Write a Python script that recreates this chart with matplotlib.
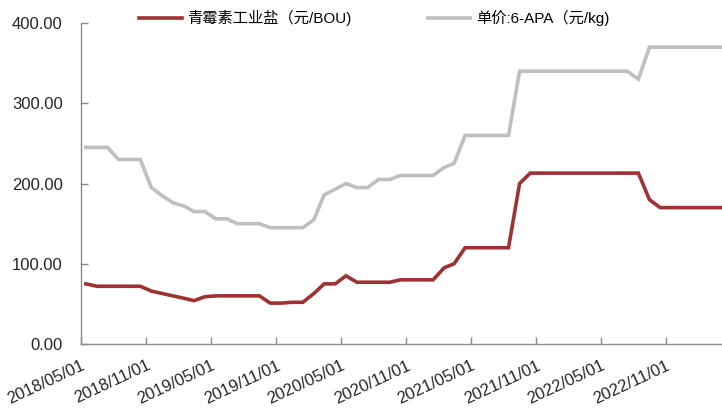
import pandas as pd
import matplotlib
matplotlib.use('Agg')
import matplotlib.pyplot as plt
import matplotlib.dates as mdates
import matplotlib.transforms as mtransforms
from matplotlib.ticker import FormatStrFormatter

plt.rcParams['font.family'] = ['Liberation Sans', 'Noto Sans CJK SC']

# monthly prices, May 2018 - Apr 2023
dates = pd.date_range('2018-05-01', periods=60, freq='MS') + pd.Timedelta(days=14)

penicillin = [75, 72, 72, 72, 72, 72, 66, 63, 60, 57,
              54, 59, 60, 60, 60, 60, 60, 51, 51, 52,
              52, 63, 75, 75, 85, 77, 77, 77, 77, 80,
              80, 80, 80, 95, 100, 120, 120, 120, 120, 120,
              200, 213, 213, 213, 213, 213, 213, 213, 213, 213,
              213, 213, 180, 170, 170, 170, 170, 170, 170, 170]

apa6 = [245, 245, 245, 230, 230, 230, 195, 185, 176, 172,
        165, 165, 156, 156, 150, 150, 150, 145, 145, 145,
        145, 155, 186, 193, 200, 195, 195, 205, 205, 210,
        210, 210, 210, 220, 225, 260, 260, 260, 260, 260,
        340, 340, 340, 340, 340, 340, 340, 340, 340, 340,
        340, 330, 370, 370, 370, 370, 370, 370, 370, 370]

labels = ['青霉素工业盐（元/BOU)', '单价:6-APA（元/kg)']
tick_dates = pd.date_range('2018-05-01', '2022-11-01', freq='6MS')

fig = plt.figure(figsize=(7.22, 4.12), dpi=100)
ax = fig.add_axes([0.112, 0.165, 0.888, 0.779])

ax.plot(dates, penicillin, color='#9E3232', lw=2.6, solid_joinstyle='miter', label=labels[0])
ax.plot(dates, apa6, color='#BFBFBF', lw=2.6, solid_joinstyle='miter', label=labels[1])

ax.set_xlim(pd.Timestamp('2018-05-01'), pd.Timestamp('2023-04-07'))
ax.set_ylim(0, 400)
ax.set_yticks([0, 100, 200, 300, 400])
ax.yaxis.set_major_formatter(FormatStrFormatter('%.2f'))
ax.set_xticks(tick_dates)
ax.xaxis.set_major_formatter(mdates.DateFormatter('%Y/%m/%d'))

# nudge the slanted date labels a little to the right of their ticks
shift = mtransforms.ScaledTranslation(6 / 72, 0, fig.dpi_scale_trans)
for lab in ax.get_xticklabels():
    lab.set_rotation(25)
    lab.set_ha('right')
    lab.set_rotation_mode('anchor')
    lab.set_transform(lab.get_transform() + shift)

for s in ['top', 'right']:
    ax.spines[s].set_visible(False)
for s in ['left', 'bottom']:
    ax.spines[s].set_color('#8C8C8C')
    ax.spines[s].set_linewidth(1.0)

ax.tick_params(axis='both', direction='in', length=5, width=1, color='#8C8C8C',
               labelsize=12, labelcolor='#262626')
ax.tick_params(axis='y', pad=13)
ax.tick_params(axis='x', pad=10)

fig.legend(loc='center', bbox_to_anchor=(0.518, 0.956), ncol=2, frameon=False,
           fontsize=11, handlelength=2.8, handletextpad=0.35, columnspacing=5.0,
           borderpad=0)

fig.savefig('out.png', dpi=100)
